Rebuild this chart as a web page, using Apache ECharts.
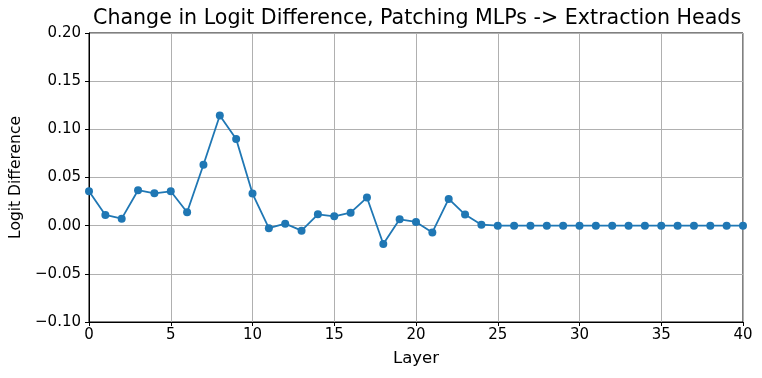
<!DOCTYPE html>
<html>
<head>
<meta charset="utf-8">
<script src="https://cdn.jsdelivr.net/npm/echarts@6/dist/echarts.min.js"></script>
<style>html,body{margin:0;padding:0;background:#fff}#c{width:762px;height:378px}</style>
</head>
<body>
<div id="c"></div>
<script>
const layers = [0,1,2,3,4,5,6,7,8,9,10,11,12,13,14,15,16,17,18,19,20,21,22,23,24,25,26,27,28,29,30,31,32,33,34,35,36,37,38,39,40];
const logitDiff = [0.0357,0.0111,0.0073,0.0368,0.0336,0.0357,0.0139,0.0632,0.1143,0.0899,0.0333,-0.0026,0.0021,-0.0052,0.0118,0.0097,0.0135,0.0292,-0.019,0.0066,0.0039,-0.007,0.0278,0.0115,0.001,0,0,0,0,0,0,0,0,0,0,0,0,0,0,0,0];
const titleText = 'Change in Logit Difference, Patching MLPs -> Extraction Heads';
const xName = 'Layer';
const yName = 'Logit Difference';

const font = 'DejaVu Sans';
const chart = echarts.init(document.getElementById('c'), null, {renderer: 'canvas'});
chart.setOption({
  animation: false,
  backgroundColor: '#fff',
  title: {
    text: titleText,
    left: 88, top: 3,
    textStyle: {fontFamily: font, fontSize: 20.6, fontWeight: 'normal', color: '#000'}
  },
  grid: {left: 89, right: 19, top: 33, bottom: 56, show: true, borderColor: '#000', borderWidth: 1, backgroundColor: 'transparent'},
  xAxis: {
    type: 'value', min: 0, max: 40, interval: 5,
    name: xName, nameLocation: 'middle', nameGap: 28,
    nameTextStyle: {fontFamily: font, fontSize: 16.5, color: '#000'},
    axisLine: {show: true, onZero: false, lineStyle: {color: '#000', width: 1}},
    axisTick: {show: true, inside: false, length: 4, lineStyle: {color: '#000'}},
    axisLabel: {fontFamily: font, fontSize: 15, color: '#000', margin: 6},
    splitLine: {show: true, lineStyle: {color: '#b0b0b0', width: 1}}
  },
  yAxis: {
    type: 'value', min: -0.10, max: 0.20, interval: 0.05,
    name: yName, nameLocation: 'middle', nameGap: 64,
    nameTextStyle: {fontFamily: font, fontSize: 15.5, color: '#000'},
    axisLine: {show: true, onZero: false, lineStyle: {color: '#000', width: 1}},
    axisTick: {show: true, inside: false, length: 4, lineStyle: {color: '#000'}},
    axisLabel: {fontFamily: font, fontSize: 15, color: '#000', margin: 8,
      formatter: v => (v < 0 ? '\u2212' : '') + Math.abs(v).toFixed(2)},
    splitLine: {show: true, lineStyle: {color: '#b0b0b0', width: 1}}
  },
  series: [{
    type: 'line',
    data: layers.map((l, i) => [l, logitDiff[i]]),
    symbol: 'circle', symbolSize: 8,
    lineStyle: {color: '#1f77b4', width: 1.8},
    itemStyle: {color: '#1f77b4'},
    clip: true
  }]
});
</script>
</body>
</html>
